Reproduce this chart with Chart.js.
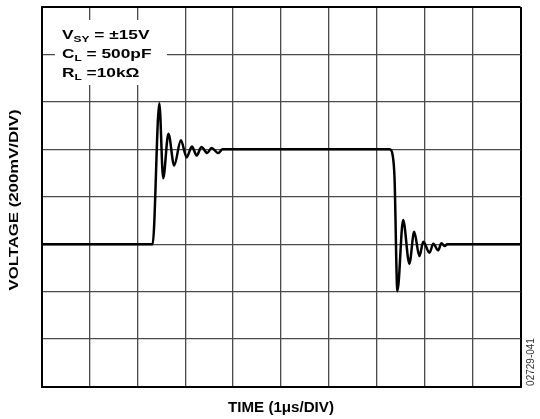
<!DOCTYPE html>
<html>
<head>
<meta charset="utf-8">
<style>
  html, body { margin: 0; padding: 0; background: #fff; }
  #wrap { width: 540px; height: 419px; position: relative; }
</style>
<script src="https://cdn.jsdelivr.net/npm/chart.js@4/dist/chart.umd.min.js"></script>
</head>
<body>
<div id="wrap"><canvas id="scopeChart" width="540" height="419"></canvas></div>
<script>
// scope trace, x in divisions (1us/div), y in divisions (200mV/div)
const traceTime = [0, 2.32, 2.46, 2.54, 2.65, 2.77, 2.91, 3.03, 3.14, 3.24, 3.34, 3.46, 3.55, 3.69, 3.78,
    7.27, 7.33, 7.37, 7.43, 7.55, 7.68, 7.78, 7.89, 7.97, 8.10, 8.18, 8.28, 8.35, 8.42, 8.47, 10];
const traceVolt = [3.0, 3.0, 5.97, 4.39, 5.33, 4.66, 5.19, 4.83, 5.06, 4.87, 5.05, 4.92, 5.03, 4.92, 5.0,
    5.0, 4.88, 4.4, 2.01, 3.51, 2.59, 3.26, 2.75, 3.05, 2.82, 3.01, 2.87, 3.02, 2.96, 3.0, 3.0];

const xDivs = 10;
const yDivs = 8;

const noteLines = [
    ['V', 'SY', ' = ±15V'],
    ['C', 'L', ' = 500pF'],
    ['R', 'L', ' =10kΩ'],
];
const xTitle = 'TIME (1μs/DIV)';
const yTitle = 'VOLTAGE (200mV/DIV)';
const figCode = '02729-041';

document.addEventListener('DOMContentLoaded', () => {
    'use strict';

    const points = traceTime.map((t, i) => ({ x: t, y: traceVolt[i] }));
    const fam = '"Liberation Sans", Arial, sans-serif';

    // text drawn stretched along its reading direction, like the source figure
    function wideText(c, text, x, y, rot, font, sx) {
        c.save();
        c.translate(x, y);
        c.rotate(rot);
        c.scale(sx, 1);
        c.font = font;
        c.fillStyle = '#000';
        c.textAlign = 'center';
        c.textBaseline = 'middle';
        c.fillText(text, 0, 0);
        c.restore();
    }

    const notesPlugin = {
        id: 'notes',
        beforeDatasetsDraw(chart) {
            const c = chart.ctx;
            c.save();
            c.fillStyle = '#fff';
            c.fillRect(55, 20, 112, 65);
            c.fillStyle = '#000';
            c.textBaseline = 'alphabetic';
            noteLines.forEach((parts, i) => {
                const y = 38.5 + i * 19;
                c.save();
                c.translate(62, y);
                c.scale(1.33, 1);
                let x = 0;
                c.font = 'bold 13px ' + fam;
                c.fillText(parts[0], x, 0);
                x += c.measureText(parts[0]).width;
                c.font = 'bold 9px ' + fam;
                c.fillText(parts[1], x, 3);
                x += c.measureText(parts[1]).width;
                c.font = 'bold 13px ' + fam;
                c.fillText(parts[2], x, 0);
                c.restore();
            });
            c.restore();
        },
        afterDraw(chart) {
            const c = chart.ctx;
            const area = chart.chartArea;
            const midX = (area.left + area.right) / 2;
            wideText(c, xTitle, midX, 408, 0, 'bold 14px ' + fam, 1.08);
            wideText(c, yTitle, 14.5, 200, -Math.PI / 2, 'bold 13px ' + fam, 1.29);

            c.save();
            c.translate(531, 362);
            c.rotate(-Math.PI / 2);
            c.font = '10px ' + fam;
            c.fillStyle = '#333';
            c.textAlign = 'center';
            c.textBaseline = 'middle';
            c.fillText(figCode, 0, 0);
            c.restore();
        }
    };

    const isEdge = (ctx, last) => ctx.tick && (ctx.tick.value === 0 || ctx.tick.value === last);

    const ctx = document.getElementById('scopeChart').getContext('2d');
    const scopeChart = new Chart(ctx, {
        type: 'line',
        data: {
            datasets: [{
                data: points,
                borderColor: '#000',
                borderWidth: 2.5,
                pointRadius: 0,
                fill: false,
                cubicInterpolationMode: 'monotone'
            }]
        },
        plugins: [notesPlugin],
        options: {
            responsive: false,
            animation: false,
            layout: { padding: { left: 41.5, top: 7, right: 19.5, bottom: 32.5 } },
            scales: {
                x: {
                    type: 'linear',
                    min: 0,
                    max: xDivs,
                    ticks: { display: false, stepSize: 1 },
                    grid: {
                        drawTicks: false,
                        color: c => isEdge(c, xDivs) ? '#000' : '#4a4a4a',
                        lineWidth: c => isEdge(c, xDivs) ? 2 : 1.3
                    },
                    border: { display: true, color: '#000', width: 2 }
                },
                y: {
                    min: 0,
                    max: yDivs,
                    ticks: { display: false, stepSize: 1 },
                    grid: {
                        drawTicks: false,
                        color: c => isEdge(c, yDivs) ? '#000' : '#4a4a4a',
                        lineWidth: c => isEdge(c, yDivs) ? 2 : 1.3
                    },
                    border: { display: true, color: '#000', width: 2 }
                }
            },
            plugins: {
                legend: { display: false },
                tooltip: { enabled: false }
            }
        }
    });
});
</script>
</body>
</html>
